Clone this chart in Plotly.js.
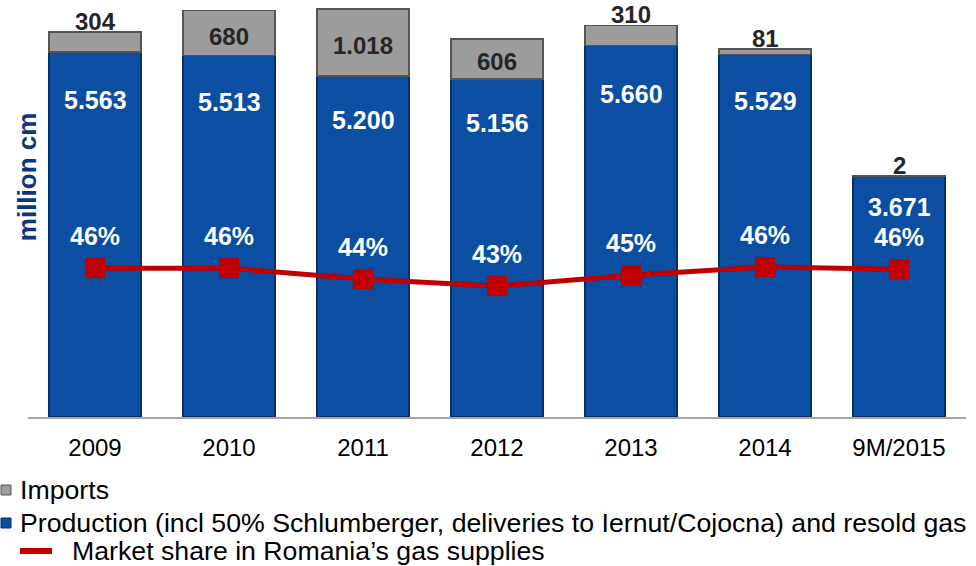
<!DOCTYPE html>
<html>
<head>
<meta charset="utf-8">
<script src="https://cdn.plot.ly/plotly-3.0.1.min.js"></script>
<style>html,body{margin:0;padding:0;background:#fff;}#chart{width:976px;height:566px;}</style>
</head>
<body>
<div id="chart"></div>
<script>
const categories = ['2009', '2010', '2011', '2012', '2013', '2014', '9M/2015'];
const production = [5563, 5513, 5200, 5156, 5660, 5529, 3671];
const imports = [304, 680, 1018, 606, 310, 81, 2];
const marketShare = [46.0, 46.0, 44.2, 43.0, 44.8, 46.2, 45.8];
const marketShareLabels = ['46%', '46%', '44%', '43%', '45%', '46%', '46%'];
const seriesNames = {
  imports: 'Imports',
  production: 'Production (incl 50% Schlumberger, deliveries to Iernut/Cojocna) and resold gas',
  share: 'Market share in Romania\u2019s gas supplies'
};

function fmt(v) {
  if (v >= 1000) return Math.floor(v / 1000) + '.' + String(v % 1000).padStart(3, '0');
  return String(v);
}

const FONT = 'Liberation Sans, Arial, sans-serif';
const BLUE = '#0b4ea2', GRAY = '#9c9c9c', RED = '#c00000';

const traces = [
  {
    type: 'bar', name: seriesNames.production,
    x: categories, y: production,
    marker: {color: BLUE, line: {color: '#062f68', width: 1.5}},
    width: 0.69, hoverinfo: 'y'
  },
  {
    type: 'bar', name: seriesNames.imports,
    x: categories, y: imports,
    marker: {color: GRAY, line: {color: '#555555', width: 1.5}},
    width: 0.69, hoverinfo: 'y'
  },
  {
    type: 'scatter', mode: 'lines+markers', name: seriesNames.share,
    x: categories, y: marketShare, yaxis: 'y2',
    line: {color: RED, width: 5},
    marker: {symbol: 'square', size: 20, color: RED}
  }
];

const annotations = [];
categories.forEach((c, i) => {
  annotations.push({
    x: i, y: production[i] * 0.87, xref: 'x', yref: 'y',
    text: '<b>' + fmt(production[i]) + '</b>', showarrow: false,
    font: {family: FONT, size: 25, color: '#ffffff'}, yanchor: 'middle'
  });
  const inside = imports[i] > 500;
  annotations.push({
    x: i, xref: 'x', yref: 'y',
    y: inside ? production[i] + imports[i] / 2 : production[i] + imports[i],
    yanchor: inside ? 'middle' : 'bottom', yshift: inside ? -3 : -5,
    text: '<b>' + fmt(imports[i]) + '</b>', showarrow: false,
    font: {family: FONT, size: 24, color: '#262626'}
  });
  annotations.push({
    x: i, y: marketShare[i], xref: 'x', yref: 'y2', yshift: 32,
    text: '<b>' + marketShareLabels[i] + '</b>', showarrow: false,
    font: {family: FONT, size: 25, color: '#ffffff'}
  });
});
annotations.push({
  xref: 'paper', yref: 'paper', x: -0.001, y: 0.585, xanchor: 'center', yanchor: 'middle',
  text: '<b>million cm</b>', textangle: -90, showarrow: false,
  font: {family: FONT, size: 26, color: '#0d3778'}
});

// Legend drawn as annotations + shapes (paper coordinates)
const PW = 938, PH = 410, L = 28, B = 417;
const px = x => (x - L) / PW;
const py = y => (B - y) / PH;
const legendItems = [
  {name: seriesNames.imports, kind: 'box', color: GRAY, edge: '#555555', yc: 490, tx: 18},
  {name: seriesNames.production, kind: 'box', color: BLUE, edge: '#062f68', yc: 523, tx: 18},
  {name: seriesNames.share, kind: 'line', color: RED, yc: 551, tx: 70}
];
const shapes = [];
legendItems.forEach(it => {
  annotations.push({
    xref: 'paper', yref: 'paper', x: px(it.tx), y: py(it.yc), xanchor: 'left', yanchor: 'middle',
    text: it.name, showarrow: false, font: {family: FONT, size: 26.7, color: '#000000'}
  });
  if (it.kind === 'box') {
    shapes.push({type: 'rect', xref: 'paper', yref: 'paper',
      x0: px(1), x1: px(11), y0: py(it.yc - 5), y1: py(it.yc + 5),
      fillcolor: it.color, line: {color: it.edge, width: 1}});
  } else {
    shapes.push({type: 'line', xref: 'paper', yref: 'paper',
      x0: px(20), x1: px(52), y0: py(it.yc), y1: py(it.yc),
      line: {color: it.color, width: 6}});
  }
});

const layout = {
  width: 976, height: 566,
  margin: {l: 28, r: 10, t: 7, b: 149, autoexpand: false},
  paper_bgcolor: '#ffffff', plot_bgcolor: '#ffffff',
  barmode: 'stack',
  font: {family: FONT, color: '#000000'},
  showlegend: false,
  xaxis: {
    type: 'category', range: [-0.5, 6.5], autorange: false,
    showline: true, linecolor: '#a6a6a6', linewidth: 1.5,
    ticks: '', tickfont: {family: FONT, size: 24, color: '#000000'},
    ticklabelstandoff: 9, showgrid: false, zeroline: false, fixedrange: true
  },
  yaxis: {
    range: [0, 6250], autorange: false, visible: false, showgrid: false, zeroline: false, fixedrange: true
  },
  yaxis2: {
    range: [21.2, 89.5], autorange: false, overlaying: 'y', side: 'right', visible: false,
    showgrid: false, zeroline: false, fixedrange: true
  },
  annotations: annotations,
  shapes: shapes
};

Plotly.newPlot('chart', traces, layout, {displayModeBar: false, staticPlot: true});
</script>
</body>
</html>
